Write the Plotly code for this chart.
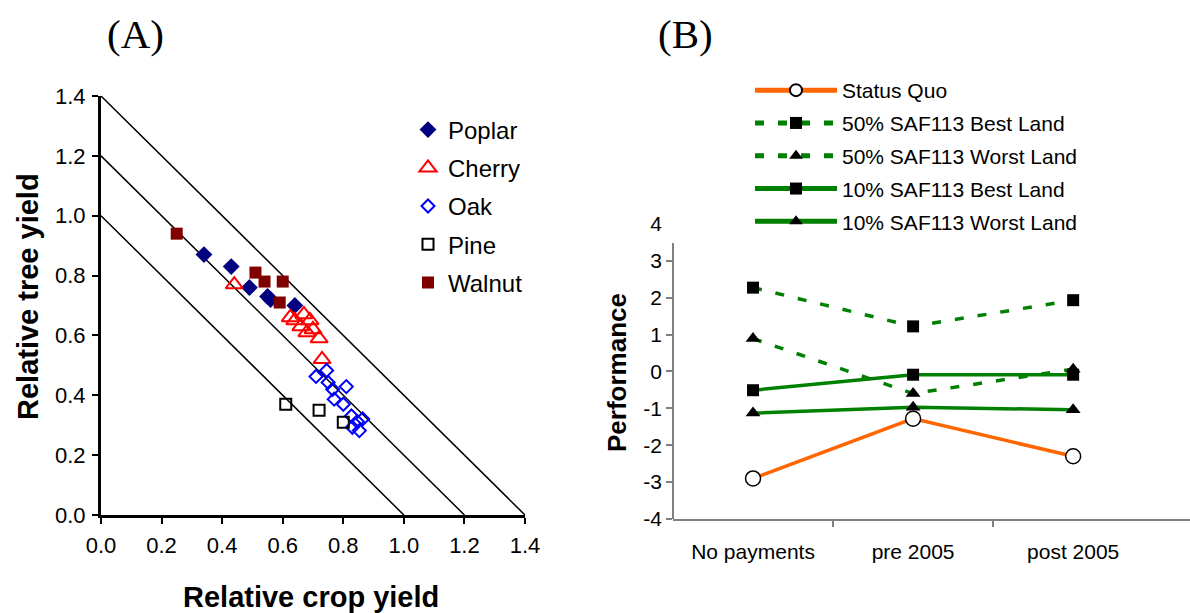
import plotly.graph_objects as go

# ---------------- Panel A: relative yields ----------------
poplar_x = [0.34, 0.43, 0.49, 0.55, 0.56, 0.64]
poplar_y = [0.87, 0.83, 0.76, 0.73, 0.72, 0.70]

cherry_x = [0.44, 0.625, 0.64, 0.67, 0.66, 0.69, 0.68, 0.70, 0.72, 0.73]
cherry_y = [0.77, 0.66, 0.65, 0.67, 0.63, 0.65, 0.61, 0.62, 0.59, 0.52]

oak_x = [0.71, 0.745, 0.75, 0.765, 0.81, 0.77, 0.80, 0.827, 0.864, 0.83, 0.853, 0.846]
oak_y = [0.463, 0.483, 0.443, 0.42, 0.429, 0.387, 0.37, 0.331, 0.321, 0.293, 0.282, 0.312]

pine_x = [0.61, 0.72, 0.80]
pine_y = [0.37, 0.35, 0.31]

walnut_x = [0.25, 0.51, 0.54, 0.60, 0.59]
walnut_y = [0.94, 0.81, 0.78, 0.78, 0.71]

# iso-yield lines x + y = c (land equivalent ratio)
ler_levels = [1.0, 1.2, 1.4]

# ---------------- Panel B: performance by scenario ----------------
categories = ["No payments", "pre 2005", "post 2005"]
status_quo = [-2.9, -1.28, -2.3]
best_50 = [2.27, 1.22, 1.93]
worst_50 = [0.89, -0.6, 0.06]
best_10 = [-0.51, -0.09, -0.09]
worst_10 = [-1.13, -0.97, -1.04]
perf_ticks = [-4, -3, -2, -1, 0, 1, 2, 3, 4]

FONT = "Liberation Sans, Arial, sans-serif"
SERIF = "Liberation Serif, Times New Roman, serif"
GREEN = "#008000"
ORANGE = "#FF6600"
GREY = "#808080"

fig = go.Figure()

for c in ler_levels:
    fig.add_trace(go.Scatter(x=[0, c], y=[c, 0], mode="lines",
                             line=dict(color="black", width=1.5),
                             showlegend=False, hoverinfo="skip",
                             xaxis="x", yaxis="y"))

species = [
    ("Poplar", poplar_x, poplar_y, dict(symbol="diamond", color="#000080", size=13)),
    ("Cherry", cherry_x, cherry_y, dict(symbol="triangle-up-open", color="#FF0000", size=15,
                                          line=dict(width=2, color="#FF0000"))),
    ("Oak", oak_x, oak_y, dict(symbol="diamond-open", color="#0000FF", size=10,
                               line=dict(width=2, color="#0000FF"))),
    ("Pine", pine_x, pine_y, dict(symbol="square-open", color="black", size=11,
                                  line=dict(width=2, color="black"))),
    ("Walnut", walnut_x, walnut_y, dict(symbol="square", color="#800000", size=12)),
]
for name, xs, ys, mk in species:
    fig.add_trace(go.Scatter(x=xs, y=ys, mode="markers", name=name, marker=mk,
                             legend="legend", legendgroup=name,
                             xaxis="x", yaxis="y"))

xpos = list(range(len(categories)))

series_b = [
    ("50% SAF113 Best Land", best_50, dict(color=GREEN, width=3.5, dash="9px,14px"),
     dict(symbol="square", color="black", size=12), 2),
    ("50% SAF113 Worst Land", worst_50, dict(color=GREEN, width=3.5, dash="9px,14px"),
     dict(symbol="triangle-up", color="black", size=13), 3),
    ("10% SAF113 Best Land", best_10, dict(color=GREEN, width=3.5),
     dict(symbol="square", color="black", size=12), 4),
    ("10% SAF113 Worst Land", worst_10, dict(color=GREEN, width=3.5),
     dict(symbol="triangle-up", color="black", size=13), 5),
    ("Status Quo", status_quo, dict(color=ORANGE, width=3.5),
     dict(symbol="circle", color="white", size=15, line=dict(color="black", width=1.5)), 1),
]
for name, ys, ln, mk, rank in series_b:
    fig.add_trace(go.Scatter(x=xpos, y=ys, mode="lines+markers", name=name,
                             line=ln, marker=mk, legend="legend2", legendgroup=name,
                             legendrank=rank, xaxis="x2", yaxis="y2"))

W, H = 1190, 613


def px_x(p):
    return p / W


def px_y(p):
    return 1 - p / H


axis_a = dict(showline=True, linecolor="black", linewidth=3, mirror=False,
              ticks="outside", ticklen=6, tickwidth=2, tickcolor="black",
              showgrid=False, zeroline=False, range=[0, 1.4], dtick=0.2,
              automargin=False, tickformat=".1f",
              tickfont=dict(family=FONT, size=22, color="black"))


def label(text, x, y, size, family=FONT, angle=0):
    return dict(text=text, x=px_x(x), y=px_y(y), xref="paper", yref="paper",
                xanchor="center", yanchor="middle", showarrow=False,
                textangle=angle, font=dict(family=family, size=size, color="black"))


fig.update_layout(
    width=W, height=H,
    margin=dict(l=0, r=0, t=0, b=0, autoexpand=False),
    paper_bgcolor="white", plot_bgcolor="white",
    font=dict(family=FONT, color="black"),
    xaxis=dict(domain=[px_x(101), px_x(525)], anchor="y", ticklabelstandoff=3, **axis_a),
    yaxis=dict(domain=[px_y(515), px_y(96)], anchor="x", ticklabelstandoff=2, **axis_a),
    xaxis2=dict(domain=[px_x(673), px_x(1190)], anchor="y2", automargin=False,
                range=[-0.5, 2.73], tickvals=xpos, ticktext=categories,
                ticks="", showline=True, linecolor=GREY, linewidth=2,
                showgrid=False, zeroline=False, ticklabelstandoff=13,
                minor=dict(tickvals=[0.5, 1.5], ticks="outside", ticklen=6,
                           tickwidth=2, tickcolor=GREY, showgrid=False),
                tickfont=dict(family=FONT, size=21, color="black")),
    yaxis2=dict(domain=[px_y(519), px_y(223.8)], anchor="x2", automargin=False,
                range=[-4, 4], tickvals=perf_ticks,
                ticktext=[str(v) for v in perf_ticks], showline=False,
                ticks="", showgrid=False, zeroline=False, ticklabelstandoff=10,
                minor=dict(tickvals=perf_ticks[:-1], ticks="outside", ticklen=6,
                           tickwidth=2, tickcolor=GREY, showgrid=False),
                tickfont=dict(family=FONT, size=21, color="black")),
    legend=dict(x=px_x(408), y=px_y(107.5), xanchor="left", yanchor="top",
                bgcolor="rgba(0,0,0,0)", itemwidth=30, tracegroupgap=4,
                font=dict(family=FONT, size=24, color="black")),
    legend2=dict(x=px_x(750), y=px_y(70), xanchor="left", yanchor="top",
                 bgcolor="white", itemwidth=82, tracegroupgap=2.5, itemsizing="constant",
                 font=dict(family=FONT, size=21, color="black")),
    shapes=[
        # vertical axis of panel B, stopping below the legend block
        dict(type="line", xref="x2 domain", yref="y2", x0=0, x1=0, y0=-4, y1=3.48,
             line=dict(color=GREY, width=2)),
    ],
    annotations=[
        label("(A)", 135, 34, 41, SERIF),
        label("(B)", 685, 34, 41, SERIF),
        label("<b>Relative crop yield</b>", 311, 597, 29),
        label("<b>Relative tree yield</b>", 28, 297, 29, angle=-90),
        label("<b>Performance</b>", 617, 373, 26, angle=-90),
    ],
)

fig.write_html("out.html")
